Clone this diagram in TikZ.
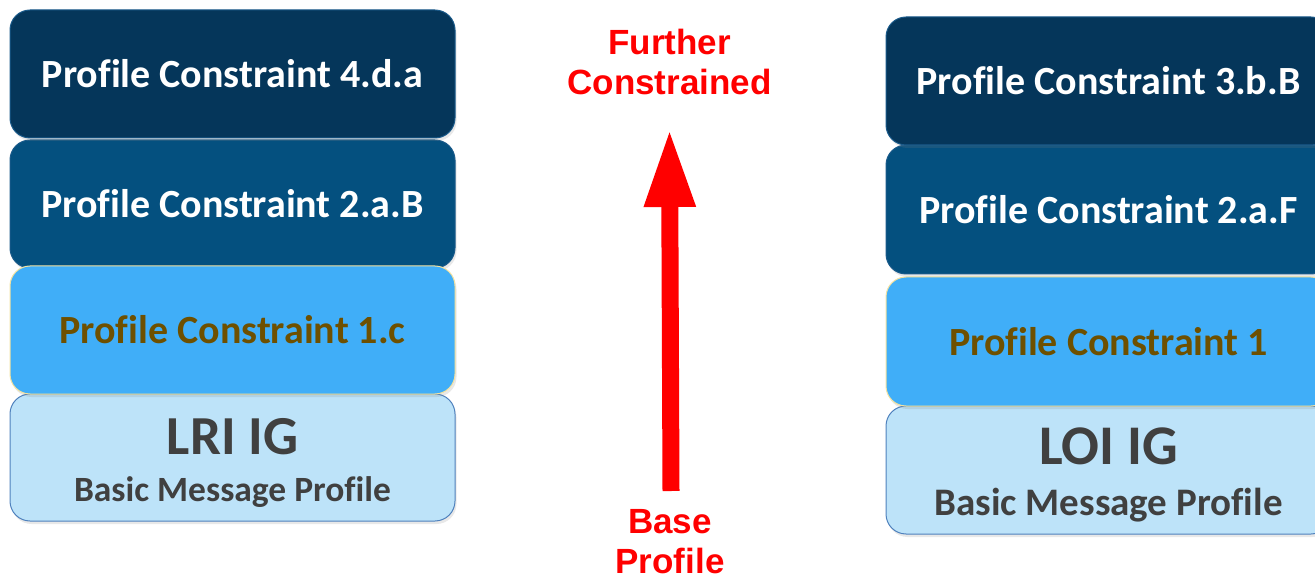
\documentclass[tikz,border=0pt]{standalone}
\usepackage{fontspec}
\setmainfont{Carlito}[Ligatures=NoCommon]
\newfontfamily\arialfont{Liberation Sans}
\usetikzlibrary{arrows.meta,shadows}
\definecolor{cdark}{HTML}{05365A}
\definecolor{cmid}{HTML}{04507F}
\definecolor{clight}{HTML}{40AEF8}
\definecolor{cpale}{HTML}{BDE3F9}
\definecolor{edark}{HTML}{1A5A8A}
\definecolor{elight}{HTML}{F3E2A0}
\definecolor{epale}{HTML}{4F81BD}
\definecolor{tbrown}{HTML}{6E5000}
\definecolor{tgray}{HTML}{404040}
\definecolor{cred}{HTML}{FF0000}
\tikzset{
  layer/.style={rectangle, rounded corners=20pt, minimum width=445pt, line width=1pt,
    inner sep=0pt, align=center, font=\bfseries,
    drop shadow={opacity=0.18, shadow xshift=1.5pt, shadow yshift=-3pt}},
  topbox/.style={layer, fill=cdark, draw=edark, text=white},
  midbox/.style={layer, fill=cmid, draw=edark, text=white},
  lightbox/.style={layer, fill=clight, draw=elight, text=tbrown},
  palebox/.style={layer, fill=cpale, draw=epale, text=tgray},
  redlabel/.style={text=cred, align=center, inner sep=0pt,
    font=\arialfont\bfseries\fontsize{35}{40}\selectfont},
  titletext/.style={text=tgray, inner sep=0pt, anchor=base},
}
\begin{document}
\begin{tikzpicture}[x=1pt,y=-1pt]
\useasboundingbox (0,0) rectangle (1315,580);

% left stack
\node[palebox, minimum height=127pt] (l4) at (232.5,457.5) {};
\node[titletext, font=\bfseries\fontsize{55}{60}\selectfont] (l4t) at (232.5,454) {LRI IG};
\node[titletext, font=\bfseries\fontsize{35.5}{38}\selectfont] (l4s) at (232.5,501) {Basic Message Profile};
\node[midbox, minimum height=128pt, font=\bfseries\fontsize{40}{44}\selectfont] (l2) at (232.5,204) {Profile Constraint 2.a.B};
\node[lightbox, minimum height=128pt, font=\bfseries\fontsize{40}{44}\selectfont] (l3) at (232.5,330) {Profile Constraint 1.c};
\node[topbox, minimum height=128pt, font=\bfseries\fontsize{40}{44}\selectfont] (l1) at (232.5,74) {Profile Constraint 4.d.a};

% right stack
\node[palebox, minimum height=128pt] (r4) at (1108.5,470) {};
\node[titletext, font=\bfseries\fontsize{56}{60}\selectfont] (r4t) at (1108.5,464) {LOI IG};
\node[titletext, font=\bfseries\fontsize{39}{42}\selectfont] (r4s) at (1108.5,515) {Basic Message Profile};
\node[midbox, minimum height=129pt, font=\bfseries\fontsize{40}{44}\selectfont] (r2) at (1108.5,209.5) {Profile Constraint 2.a.F};
\node[lightbox, minimum height=129pt, font=\bfseries\fontsize{40}{44}\selectfont] (r3) at (1108.5,341.5) {Profile Constraint 1};
\node[topbox, minimum height=128pt, font=\bfseries\fontsize{40}{44}\selectfont] (r1) at (1108.5,81) {Profile Constraint 3.b.B};

% arrow and labels
\node[redlabel, anchor=north] (further) at (669.5,29) {Further\\Constrained};
\node[redlabel, anchor=north] (base) at (670,509) {Base\\Profile};
\coordinate (abot) at (671,491);
\coordinate (atip) at (669.5,128);
\draw[cred, line width=17pt, -{Triangle[width=47pt,length=79pt]}] (abot) -- (atip);
\end{tikzpicture}
\end{document}
